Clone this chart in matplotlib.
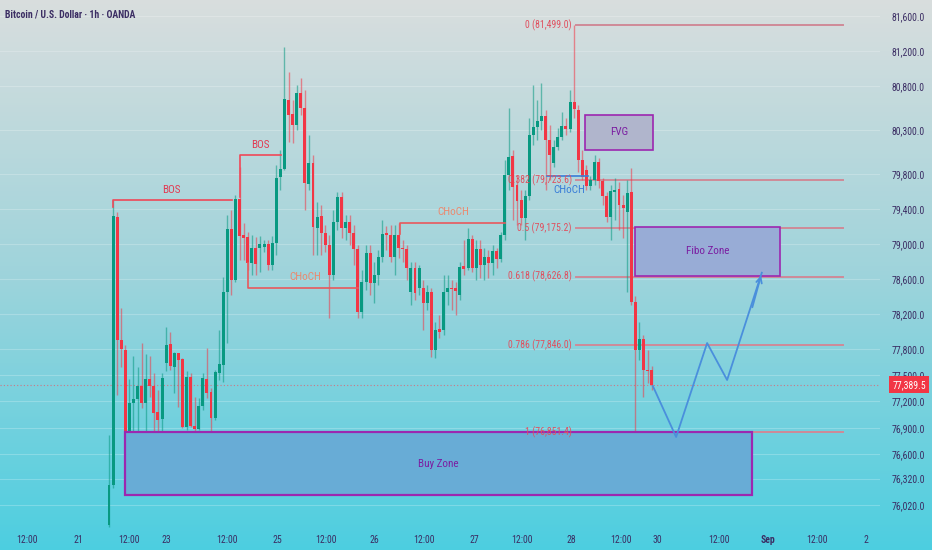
import matplotlib
matplotlib.use("Agg")
import matplotlib.pyplot as plt
import matplotlib.font_manager as fm
from matplotlib.patches import Rectangle
from matplotlib.transforms import blended_transform_factory
import numpy as np

# ---- data (BTCUSD 1h, OANDA) ----
opens = [75789, 76246, 79306, 77902, 77788, 76680, 77182, 77228, 77376, 77182,
         77456, 77376, 77080, 76999, 77639, 77856, 77593, 77753, 77685, 76908,
         77479, 76920, 76885, 77148, 77456, 77308, 77011, 77525, 77616, 78450,
         79169, 78587, 79512, 79101, 79078, 78781, 78952, 78952, 78964, 78998,
         78758, 79009, 79763, 79855, 80642, 80483, 80357, 80722, 80551, 79683,
         79923, 79181, 79318, 79124, 78987, 78644, 79249, 79535, 79181, 79249,
         79124, 78941, 78221, 78564, 78895, 78553, 78644, 78850, 79124, 79101,
         78850, 79101, 78952, 78941, 78450, 78724, 78496, 78496, 78324, 78450,
         77788, 78027, 78016, 78450, 78496, 78496, 78416, 78747, 78724, 79055,
         78724, 78941, 78758, 78850, 78781, 78918, 78827, 79101, 79786, 80003,
         79672, 79500, 79295, 79546, 80243, 80334, 80403, 80460, 80186, 79923,
         80106, 80220, 80346, 80311, 80620, 80528, 79957, 79843, 79660, 79729,
         79934, 79717, 79546, 79306, 79592, 79626, 79443, 79363, 79592, 78336,
         77788, 77913, 77559, 77559]
closes = [76246, 79318, 77902, 77799, 76703, 77182, 77228, 77376, 77182, 77456,
          77376, 77068, 76988, 77468, 77845, 77605, 77753, 77673, 76908, 77479,
          76920, 76885, 77148, 77468, 77296, 77011, 77536, 77628, 78450, 79169,
          78587, 79512, 79089, 79067, 78781, 78952, 78770, 78998, 78998, 78758,
          79009, 79752, 79855, 80654, 80471, 80357, 80722, 80551, 79695, 79923,
          79192, 79306, 79124, 78987, 78644, 79249, 79535, 79181, 79249, 79124,
          78941, 78221, 78564, 78895, 78553, 78644, 78850, 79112, 79101, 78850,
          79101, 78952, 78941, 78724, 78724, 78438, 78724, 78324, 78450, 77788,
          78016, 77993, 78450, 78496, 78484, 78461, 78735, 78713, 79055, 78724,
          78941, 78758, 78850, 78781, 78918, 78827, 79101, 79786, 79992, 79649,
          79489, 79295, 79546, 80243, 80334, 80403, 80460, 80186, 80014, 80106,
          80220, 80346, 80311, 80620, 80540, 79957, 79763, 79660, 79729, 79934,
          79717, 79546, 79306, 79603, 79615, 79443, 79409, 79580, 78336, 77788,
          77913, 77559, 77548, 77389.5]
highs = [76817, 79500, 79363, 78267, 77845, 77456, 77719, 77593, 77867, 77742,
         77719, 77525, 77331, 77525, 78050, 77993, 77765, 77753, 77696, 77548,
         77525, 77251, 77239, 77525, 77810, 77354, 77559, 78016, 78621, 79329,
         79386, 79558, 79877, 79238, 79135, 79101, 79078, 79089, 79044, 79044,
         79089, 79900, 80072, 81248, 80962, 80642, 80814, 80894, 80757, 80243,
         80014, 79478, 79443, 79215, 79101, 79386, 79592, 79592, 79329, 79329,
         79215, 78987, 78701, 78987, 78987, 78792, 78930, 79272, 79204, 79215,
         79215, 79238, 79044, 78987, 78792, 78792, 78758, 78587, 78530, 78496,
         78107, 78187, 78644, 78644, 78587, 78564, 78792, 79044, 79181, 79101,
         79044, 79044, 78952, 78930, 78987, 78952, 79135, 79957, 80551, 80072,
         79786, 79615, 79615, 80437, 80814, 80642, 80837, 80528, 80357, 80186,
         80323, 80506, 80437, 80757, 81499, 80585, 80072, 79900, 79775, 80014,
         79980, 79752, 79592, 79672, 79752, 79706, 79558, 79729, 79866, 78404,
         78107, 77959, 77788, 77605]
lows = [75766, 76212, 77274, 77593, 76360, 76497, 76497, 76497, 77125, 76783,
        77251, 76554, 76783, 76817, 77548, 77559, 77296, 77137, 76897, 76874,
        76908, 76668, 76874, 77102, 77239, 76817, 76988, 77445, 77422, 77867,
        78416, 78564, 78815, 78815, 78701, 78644, 78644, 78678, 78907, 78701,
        78701, 78872, 79615, 79843, 80163, 80151, 80300, 80471, 79386, 79615,
        78872, 78872, 78872, 78907, 78153, 78587, 79158, 79067, 79044, 78987,
        78758, 78153, 78153, 78473, 78416, 78324, 78530, 78792, 78930, 78792,
        78644, 78838, 78792, 78587, 78301, 78359, 78416, 78016, 78244, 77708,
        77696, 77925, 77959, 78301, 78244, 78187, 78359, 78644, 78701, 78678,
        78587, 78610, 78587, 78610, 78644, 78724, 78792, 79044, 79615, 79272,
        79215, 79215, 79044, 79500, 80129, 80186, 80300, 79615, 79729, 79877,
        80072, 80186, 80243, 80277, 80437, 79820, 79729, 79615, 79615, 79672,
        79638, 79443, 79249, 79044, 79272, 79158, 79067, 78450, 78301, 76851,
        77673, 77251, 77411, 77331]

fib_ratios = ["0", "0.382", "0.5", "0.618", "0.786", "1"]
fib_prices = [81499.0, 79723.6, 79175.2, 78626.8, 77846.0, 76851.4]

price_ticks = [81600, 81200, 80800, 80300, 79800, 79400, 79000, 78600, 78200,
               77800, 77500, 77200, 76900, 76600, 76320, 76020]
time_labels = ["12:00", "21", "12:00", "23", "12:00", "25", "12:00", "26", "12:00",
               "27", "12:00", "28", "12:00", "30", "12:00", "Sep", "12:00", "2"]
time_pos = [-20, -7.6, 5, 14, 29, 41.2, 53.2, 65, 77.2, 89.5, 101.2, 113.2,
            125.5, 134.3, 149.5, 161.5, 173.5, 185.5]

# projected path (bar index, price)
proj_x = [133.3, 139.0, 146.6, 151.5, 160.0]
proj_y = [77376, 76794, 77867, 77445, 78670]

last_price = 77389.5

# ---- style ----
names = {f.name for f in fm.fontManager.ttflist}
font = next((n for n in ["Liberation Sans Narrow", "Roboto Condensed"] if n in names),
            "DejaVu Sans")
plt.rcParams["font.family"] = [font, "DejaVu Sans"]

GREEN = "#089981"
RED = "#f23645"
TXT = "#3b2d63"
PURPLE = "#9c27b0"

W, H = 932, 550
fig = plt.figure(figsize=(W / 100, H / 100), dpi=100)

# gradient background for whole figure
bg = fig.add_axes([0, 0, 1, 1])
top = np.array([0.85, 0.87, 0.87])
mid = np.array([0.62, 0.83, 0.86])
bot = np.array([0.30, 0.81, 0.88])
t = np.linspace(0, 1, 256)[:, None]
grad = np.where(t < 0.5, top + (mid - top) * (t / 0.5), mid + (bot - mid) * ((t - 0.5) / 0.5))
bg.imshow(grad[:, None, :].repeat(2, axis=1), aspect="auto", extent=[0, 1, 0, 1])
bg.axis("off")

plot_right = 880
plot_bottom = 529
ax = fig.add_axes([0, 1 - plot_bottom / H, plot_right / W, plot_bottom / H])
ax.set_facecolor("none")
px = 4.08  # pixels per bar
ax.set_xlim(-109 / px, (plot_right - 109) / px)
ax.set_ylim(81784.5 - 11.42 * plot_bottom, 81784.5)

for s in ax.spines.values():
    s.set_visible(False)

# grid
for v in price_ticks:
    ax.axhline(v, color="white", alpha=0.22, lw=0.8, zorder=0)

# candles
idx = np.arange(len(opens))
o = np.array(opens, float)
c = np.array(closes, float)
hi = np.array(highs, float)
lo = np.array(lows, float)
cols = np.where(c >= o, GREEN, RED)
ax.vlines(idx, lo, hi, colors=cols, lw=1.0, alpha=0.55, zorder=3)
body = np.maximum(np.abs(c - o), 12)
ax.bar(idx, body, bottom=np.minimum(o, c), width=0.72, color=cols, zorder=4, lw=0)

# last price line + badge
ax.axhline(last_price, color="#e2606e", lw=0.8, ls=(0, (1, 2)), alpha=0.8, zorder=2)
tr = blended_transform_factory(ax.transAxes, ax.transData)
ax.text(909 / plot_right, last_price, f"{last_price:,.1f}", transform=tr, ha="center",
        va="center", color="white", fontsize=7, clip_on=False, zorder=10,
        bbox=dict(boxstyle="square,pad=0.35", fc=RED, ec="none"))

# zones
def zone(x0, x1, y0, y1, fc, label, lw=1.2):
    ax.add_patch(Rectangle((x0, y0), x1 - x0, y1 - y0, fc=fc, ec=PURPLE, lw=lw, zorder=5))
    ax.text((x0 + x1) / 2, (y0 + y1) / 2, label, ha="center", va="center",
            color="#7b1fa2", fontsize=8, zorder=6)

zone(3.9, 157.6, 76132, 76847, "#68acd6", "Buy Zone", lw=1.6)
zone(116.7, 133.3, 80072, 80471, "#b0b5cc", "FVG")
zone(128.9, 164.5, 78630, 79195, "#98acd6", "Fibo Zone")

# fib levels
for r, p in zip(fib_ratios, fib_prices):
    ax.plot([114.5, 179.9], [p, p], color="#cf8a98", lw=1.4, zorder=2)
    ax.text(113.4, p, f"{r} ({p:,.1f})", ha="right", va="center", color="#e0505f",
            fontsize=7, zorder=6)

# structure marks
def bracket(xs, ys, color):
    ax.plot(xs, ys, color=color, lw=1.2, zorder=5)

bracket([1, 1, 30.1], [79420, 79500, 79500], "#f04858")
ax.text(15.4, 79560, "BOS", color="#e23a52", fontsize=8, ha="center", va="bottom")
bracket([32.1, 32.1, 42.2], [79535, 80014, 80014], "#f04858")
ax.text(37.2, 80070, "BOS", color="#e23a52", fontsize=8, ha="center", va="bottom")
bracket([34.1, 34.1, 61], [78781, 78496, 78496], "#e8585c")
ax.text(48, 78620, "CHoCH", color="#ea8a70", fontsize=8, ha="center", va="center")
bracket([71.3, 71.3, 97], [79110, 79238, 79238], "#e8585c")
ax.text(84.3, 79360, "CHoCH", color="#ea8a70", fontsize=8, ha="center", va="center")
bracket([107.4, 117.4], [79775, 79775], "#3a7ed8")
ax.text(112.8, 79610, "CHoCH", color="#3a7ed8", fontsize=8, ha="center", va="center")

# projection
ax.plot(proj_x, proj_y, color="#4a8fdc", lw=1.3, zorder=7)
ax.annotate("", xy=(proj_x[-1], proj_y[-1]), xytext=(proj_x[-2] + 6, proj_y[-2] + 800),
            arrowprops=dict(arrowstyle="->", color="#4a8fdc", lw=1.3), zorder=7)

# axes ticks
ax.yaxis.tick_right()
ax.set_yticks(price_ticks)
ax.set_yticklabels([f"{v:,.1f}" for v in price_ticks])
ax.tick_params(axis="y", length=0, pad=(925 - plot_right) * 0.72, labelsize=7,
               labelcolor=TXT)
for lab in ax.get_yticklabels():
    lab.set_horizontalalignment("right")
ax.set_xticks(time_pos)
ax.set_xticklabels(time_labels)
ax.tick_params(axis="x", length=0, pad=4, labelsize=7, labelcolor=TXT)
for lab in ax.get_xticklabels():
    if lab.get_text() == "Sep":
        lab.set_fontweight("bold")

fig.text(5 / W, 1 - 14 / H, "Bitcoin / U.S. Dollar · 1h · OANDA", color=TXT,
         fontsize=7, fontweight="bold", va="center", ha="left")

fig.savefig("out.png", dpi=100)
